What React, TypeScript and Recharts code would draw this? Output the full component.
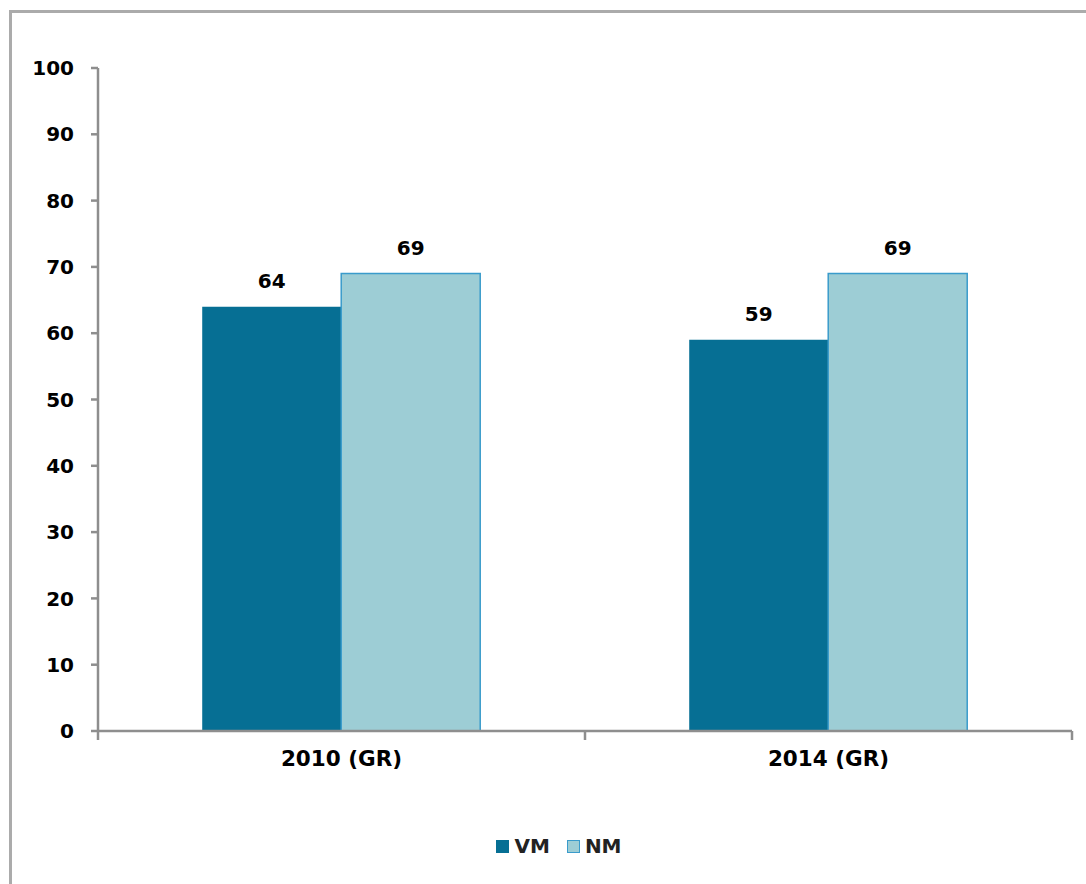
import { BarChart, Bar, XAxis, YAxis, LabelList, Legend } from "recharts";

const categories = ["2010 (GR)", "2014 (GR)"];
const vmValues = [64, 59];
const nmValues = [69, 69];
const yTicks = [0, 10, 20, 30, 40, 50, 60, 70, 80, 90, 100];
const edgeTicks = [0, 1, 2];

const data = categories.map((name, i) => ({ name, pos: i + 0.5, VM: vmValues[i], NM: nmValues[i] }));

const FONT = "'DejaVu Sans', Verdana, sans-serif";
const VM_COLOR = "#066f94";
const NM_COLOR = "#9dcdd5";
const NM_STROKE = "#3a9bcb";
const AXIS = "#8e8e8e";

const tickStyle = { fill: "#000", fontSize: 20, fontWeight: 700, fontFamily: FONT };
const catTickStyle = { ...tickStyle, fontSize: 21.5 };

// CartesianAxis draws nothing when its height is 0, so both x axes get a hair of height
const AXIS_H = 0.01;

function LegendContent() {
  const items = [
    { label: "VM", fill: VM_COLOR, stroke: VM_COLOR },
    { label: "NM", fill: NM_COLOR, stroke: NM_STROKE },
  ];
  return (
    <div style={{ display: "flex", justifyContent: "center", alignItems: "center", fontFamily: FONT, gap: 17, paddingLeft: 32 }}>
      {items.map((it) => (
        <div key={it.label} style={{ display: "flex", alignItems: "center" }}>
          <span
            style={{
              display: "inline-block",
              width: 11,
              height: 11,
              background: it.fill,
              border: `1.5px solid ${it.stroke}`,
              marginRight: 5,
            }}
          />
          <span style={{ fontSize: 20, fontWeight: 700, color: "#222" }}>{it.label}</span>
        </div>
      ))}
    </div>
  );
}

export default function App() {
  return (
    <div style={{ position: "absolute", left: 0, top: 0, width: 1086, height: 884, background: "#fff", overflow: "hidden" }}>
      <div
        style={{
          position: "absolute",
          left: 9,
          top: 10,
          width: 1100,
          height: 900,
          borderLeft: "3px solid #ababab",
          borderTop: "3px solid #ababab",
        }}
      />
      <BarChart
        width={1086}
        height={884}
        data={data}
        margin={{ top: 68, right: 14, left: 0, bottom: 153 - 2 * AXIS_H }}
        barGap={0}
        barCategoryGap="21.4%"
        style={{ position: "absolute", left: 0, top: 0 }}
      >
        <XAxis
          xAxisId="edges"
          dataKey="pos"
          type="number"
          domain={[0, 2]}
          allowDataOverflow
          ticks={edgeTicks}
          interval={0}
          height={AXIS_H}
          tickFormatter={() => ""}
          stroke={AXIS}
          axisLine={{ stroke: AXIS, strokeWidth: 2.5 }}
          tickLine={{ stroke: AXIS, strokeWidth: 2.5 }}
          tickSize={9}
        />
        <XAxis
          xAxisId="cat"
          dataKey="name"
          height={AXIS_H}
          axisLine={false}
          tickLine={false}
          tickSize={0}
          tickMargin={20}
          tick={catTickStyle}
        />
        <YAxis
          width={98}
          domain={[0, 100]}
          ticks={yTicks}
          interval={0}
          axisLine={{ stroke: AXIS, strokeWidth: 2.5 }}
          tickLine={{ stroke: AXIS, strokeWidth: 2.5 }}
          tickSize={7}
          tickMargin={17}
          tick={tickStyle}
        />
        <Legend
          layout="horizontal"
          verticalAlign="middle"
          align="center"
          wrapperStyle={{ top: 834, left: 0, width: 1086 }}
          content={() => <LegendContent />}
        />
        <Bar xAxisId="cat" dataKey="VM" fill={VM_COLOR} isAnimationActive={false}>
          <LabelList dataKey="VM" position="top" offset={19} style={tickStyle} />
        </Bar>
        <Bar xAxisId="cat" dataKey="NM" fill={NM_COLOR} stroke={NM_STROKE} strokeWidth={1.5} isAnimationActive={false}>
          <LabelList dataKey="NM" position="top" offset={19} style={tickStyle} />
        </Bar>
      </BarChart>
    </div>
  );
}
